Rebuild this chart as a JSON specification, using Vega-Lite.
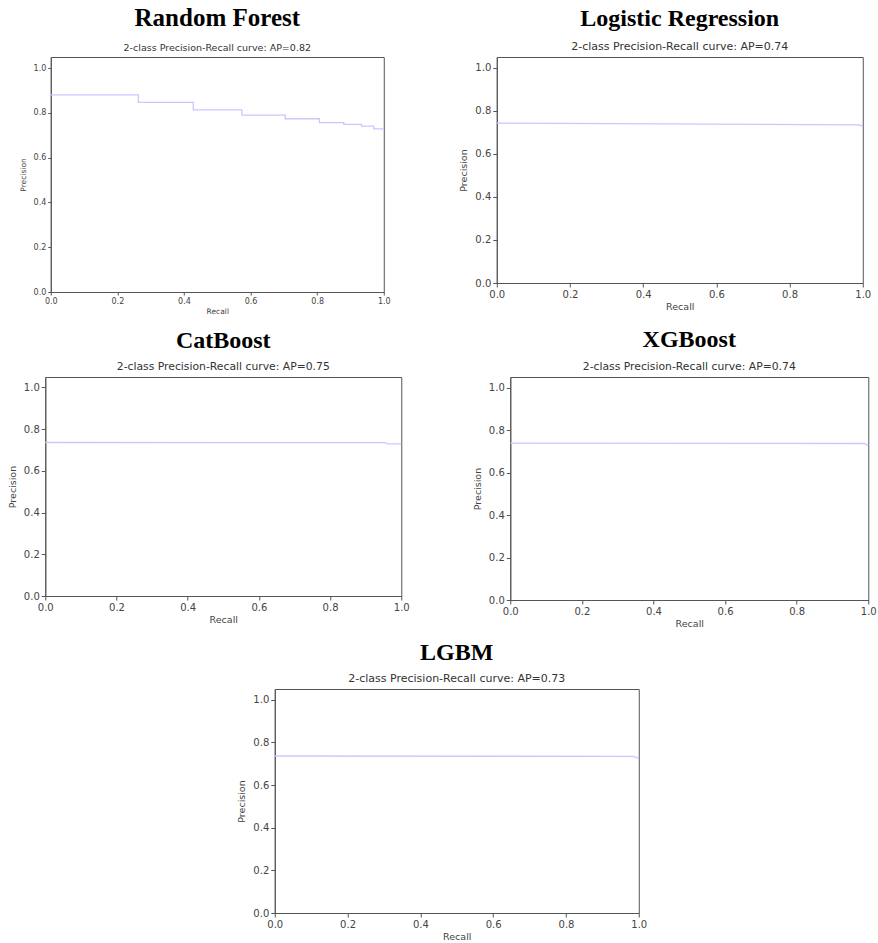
{
  "$schema": "https://vega.github.io/schema/vega-lite/v6.json",
  "background": "white",
  "padding": {"left": 6, "top": 5, "right": 0, "bottom": 0},
  "center": true,
  "spacing": 12,
  "config": {
    "view": {"stroke": "#555", "strokeWidth": 1},
    "axis": {"grid": false, "domainColor": "#555", "tickColor": "#555", "tickSize": 4, "labelColor": "#444", "titleColor": "#444", "labelFont": "DejaVu Sans", "titleFont": "DejaVu Sans", "titleFontWeight": "normal", "labelFlush": false, "labelOverlap": false},
    "title": {"font": "Liberation Serif", "fontWeight": "bold", "fontSize": 24, "color": "#000", "subtitleFont": "DejaVu Sans", "subtitleFontSize": 11, "subtitleColor": "#333", "subtitlePadding": 10, "anchor": "middle", "offset": 5},
    "line": {"color": "#c8c8ff", "strokeWidth": 1.3, "interpolate": "step-after"}
  },
  "vconcat": [
    {
      "hconcat": [
        {
          "title": {"text": "Random Forest", "subtitle": "2-class Precision-Recall curve: AP=0.82", "fontSize": 25, "subtitleFontSize": 9.5, "subtitlePadding": 12},
          "width": 333, "height": 235,
          "data": {"values": [
            {"recall": 0.0, "precision": 0.881},
            {"recall": 0.263, "precision": 0.847},
            {"recall": 0.428, "precision": 0.814},
            {"recall": 0.574, "precision": 0.790},
            {"recall": 0.704, "precision": 0.774},
            {"recall": 0.807, "precision": 0.757},
            {"recall": 0.880, "precision": 0.749},
            {"recall": 0.933, "precision": 0.741},
            {"recall": 0.970, "precision": 0.729},
            {"recall": 1.0, "precision": 0.729}
          ]},
          "mark": {"type": "line"},
          "encoding": {
            "x": {"field": "recall", "type": "quantitative", "scale": {"domain": [0, 1], "nice": false}, "axis": {"title": "Recall", "values": [0, 0.2, 0.4, 0.6, 0.8, 1.0], "format": ".1f", "labelFontSize": 8, "titleFontSize": 7.5, "titlePadding": 2, "tickSize": 3}},
            "y": {"field": "precision", "type": "quantitative", "scale": {"domain": [0, 1.05], "nice": false, "zero": true}, "axis": {"title": "Precision", "values": [0, 0.2, 0.4, 0.6, 0.8, 1.0], "format": ".1f", "labelFontSize": 8, "titleFontSize": 7.5, "titlePadding": 6, "tickSize": 3}}
          }
        },
        {
          "title": {"text": "Logistic Regression", "subtitle": "2-class Precision-Recall curve: AP=0.74", "subtitleFontSize": 11, "subtitlePadding": 10},
          "width": 366, "height": 226,
          "data": {"values": [
            {"recall": 0.0, "precision": 0.743},
            {"recall": 0.99, "precision": 0.735},
            {"recall": 1.0, "precision": 0.728}
          ]},
          "mark": {"type": "line", "interpolate": "linear"},
          "encoding": {
            "x": {"field": "recall", "type": "quantitative", "scale": {"domain": [0, 1], "nice": false}, "axis": {"title": "Recall", "values": [0, 0.2, 0.4, 0.6, 0.8, 1.0], "format": ".1f", "labelFontSize": 10, "titleFontSize": 9.5, "titlePadding": 2}},
            "y": {"field": "precision", "type": "quantitative", "scale": {"domain": [0, 1.05], "nice": false, "zero": true}, "axis": {"title": "Precision", "values": [0, 0.2, 0.4, 0.6, 0.8, 1.0], "format": ".1f", "labelFontSize": 10, "titleFontSize": 9.5, "titlePadding": 6}}
          }
        }
      ],
      "spacing": 67
    },
    {
      "hconcat": [
        {
          "title": {"text": "CatBoost", "subtitle": "2-class Precision-Recall curve: AP=0.75", "subtitleFontSize": 10.8, "subtitlePadding": 8},
          "width": 356, "height": 219,
          "data": {"values": [
            {"recall": 0.0, "precision": 0.736},
            {"recall": 0.956, "precision": 0.735},
            {"recall": 0.96, "precision": 0.729},
            {"recall": 1.0, "precision": 0.729}
          ]},
          "mark": {"type": "line", "interpolate": "linear"},
          "encoding": {
            "x": {"field": "recall", "type": "quantitative", "scale": {"domain": [0, 1], "nice": false}, "axis": {"title": "Recall", "values": [0, 0.2, 0.4, 0.6, 0.8, 1.0], "format": ".1f", "labelFontSize": 10, "titleFontSize": 9.5, "titlePadding": 2}},
            "y": {"field": "precision", "type": "quantitative", "scale": {"domain": [0, 1.05], "nice": false, "zero": true}, "axis": {"title": "Precision", "values": [0, 0.2, 0.4, 0.6, 0.8, 1.0], "format": ".1f", "labelFontSize": 10, "titleFontSize": 9.5, "titlePadding": 6}}
          }
        },
        {
          "title": {"text": "XGBoost", "subtitle": "2-class Precision-Recall curve: AP=0.74", "subtitleFontSize": 10.8, "subtitlePadding": 9},
          "width": 358, "height": 223,
          "data": {"values": [
            {"recall": 0.0, "precision": 0.739},
            {"recall": 0.989, "precision": 0.737},
            {"recall": 1.0, "precision": 0.727}
          ]},
          "mark": {"type": "line", "interpolate": "linear"},
          "encoding": {
            "x": {"field": "recall", "type": "quantitative", "scale": {"domain": [0, 1], "nice": false}, "axis": {"title": "Recall", "values": [0, 0.2, 0.4, 0.6, 0.8, 1.0], "format": ".1f", "labelFontSize": 10, "titleFontSize": 9.5, "titlePadding": 2}},
            "y": {"field": "precision", "type": "quantitative", "scale": {"domain": [0, 1.05], "nice": false, "zero": true}, "axis": {"title": "Precision", "values": [0, 0.2, 0.4, 0.6, 0.8, 1.0], "format": ".1f", "labelFontSize": 10, "titleFontSize": 9.5, "titlePadding": 6}}
          }
        }
      ],
      "spacing": 61
    },
    {
      "title": {"text": "LGBM", "subtitle": "2-class Precision-Recall curve: AP=0.73", "subtitleFontSize": 11, "subtitlePadding": 8},
      "width": 364, "height": 224,
      "data": {"values": [
        {"recall": 0.0, "precision": 0.736},
        {"recall": 0.986, "precision": 0.734},
        {"recall": 1.0, "precision": 0.725}
      ]},
      "mark": {"type": "line", "interpolate": "linear"},
      "encoding": {
        "x": {"field": "recall", "type": "quantitative", "scale": {"domain": [0, 1], "nice": false}, "axis": {"title": "Recall", "values": [0, 0.2, 0.4, 0.6, 0.8, 1.0], "format": ".1f", "labelFontSize": 10, "titleFontSize": 9.5, "titlePadding": 2}},
        "y": {"field": "precision", "type": "quantitative", "scale": {"domain": [0, 1.05], "nice": false, "zero": true}, "axis": {"title": "Precision", "values": [0, 0.2, 0.4, 0.6, 0.8, 1.0], "format": ".1f", "labelFontSize": 10, "titleFontSize": 9.5, "titlePadding": 6}}
      }
    }
  ]
}
